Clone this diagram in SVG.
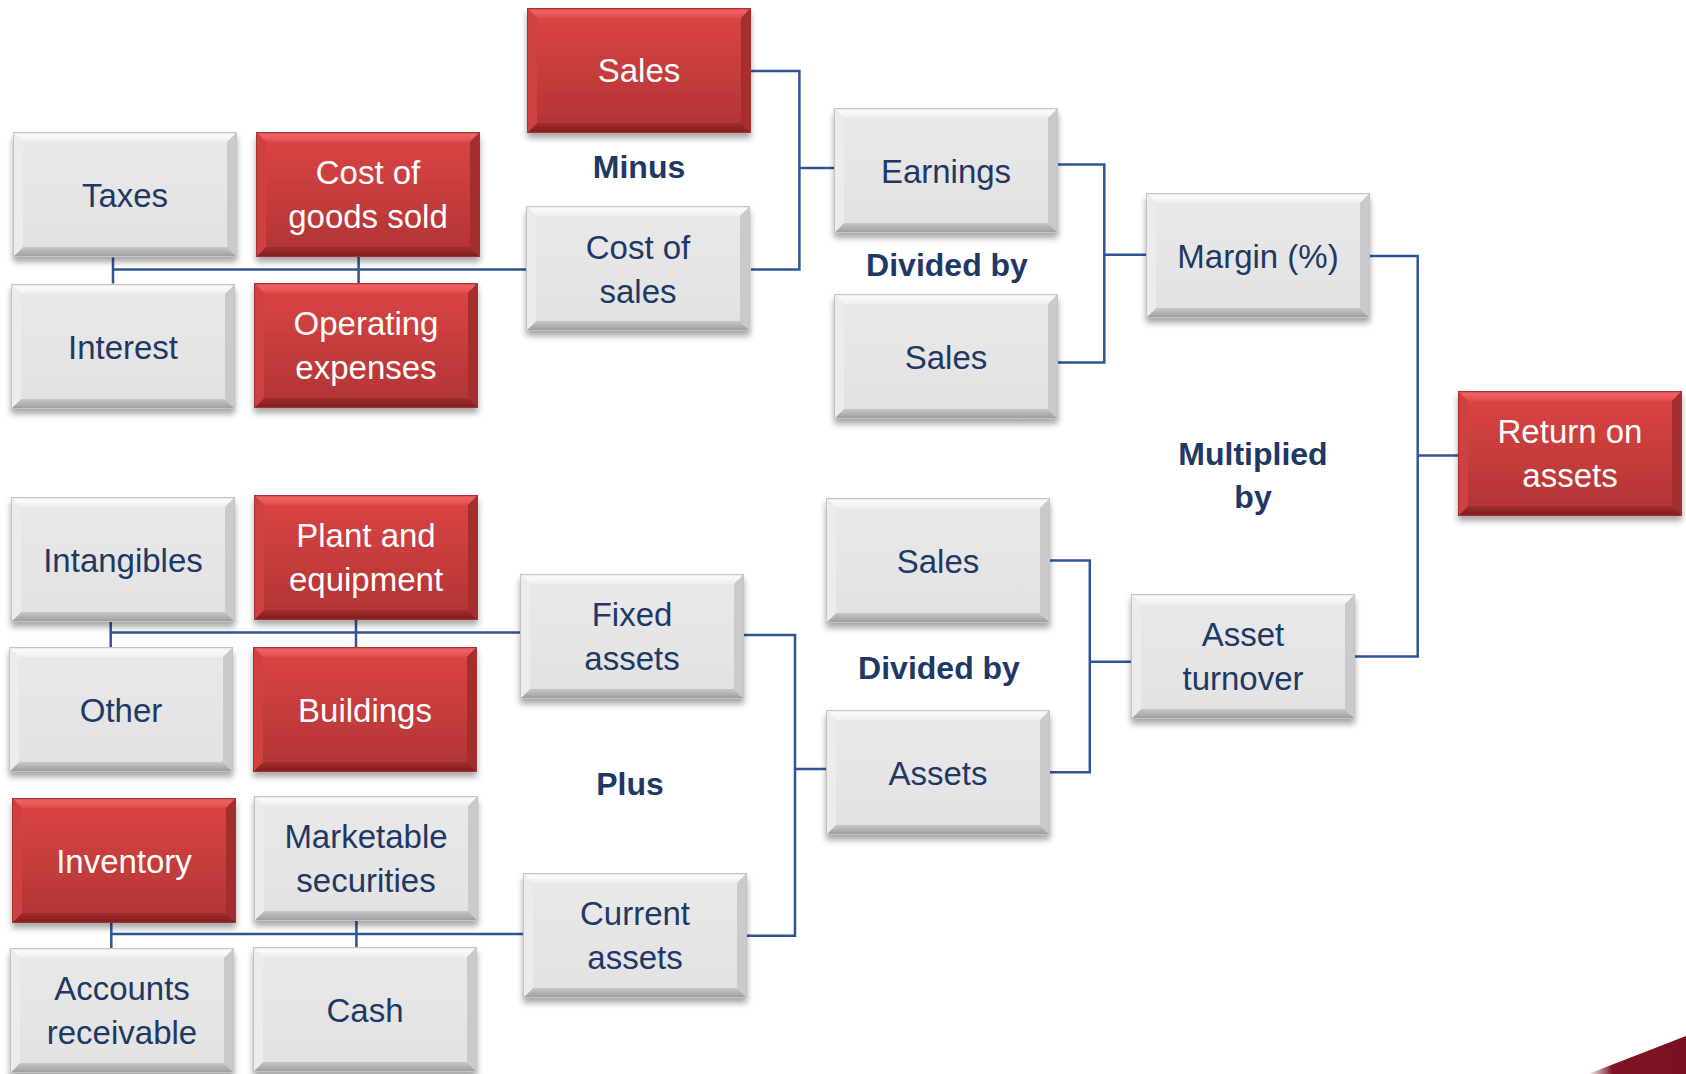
<svg xmlns="http://www.w3.org/2000/svg" xmlns:xlink="http://www.w3.org/1999/xlink" width="1686" height="1074" viewBox="0 0 1686 1074">
<style>
.t{font-family:"Liberation Sans",Arial,sans-serif;font-size:33px;text-anchor:middle;fill:#1f3864}
.w{fill:#ffffff}
.b{font-family:"Liberation Sans",Arial,sans-serif;font-size:32px;font-weight:bold;text-anchor:middle;fill:#1f3864}
.c{fill:none;stroke:#2f5597;stroke-width:2.5}
</style>
<defs>
<filter id="sh" x="-10%" y="-10%" width="125%" height="135%">
<feDropShadow dx="0" dy="5" stdDeviation="3" flood-color="#000" flood-opacity="0.35"/>
</filter>
<linearGradient id="gFace" x1="0" y1="0" x2="0" y2="1">
<stop offset="0" stop-color="#e9e9e9"/><stop offset="1" stop-color="#e2e2e2"/>
</linearGradient>
<linearGradient id="gTop" x1="0" y1="0" x2="0" y2="1">
<stop offset="0" stop-color="#e0e0e0"/><stop offset="0.3" stop-color="#fafafa"/><stop offset="1" stop-color="#efefef"/>
</linearGradient>
<linearGradient id="gBot" x1="0" y1="0" x2="0" y2="1">
<stop offset="0" stop-color="#c8c8c8"/><stop offset="1" stop-color="#9a9a9a"/>
</linearGradient>
<linearGradient id="rFace" x1="0" y1="0" x2="0" y2="1">
<stop offset="0" stop-color="#dc4545"/><stop offset="1" stop-color="#b03434"/>
</linearGradient>
<linearGradient id="rTop" x1="0" y1="0" x2="0" y2="1">
<stop offset="0" stop-color="#d44444"/><stop offset="0.3" stop-color="#f06262"/><stop offset="1" stop-color="#e04c4c"/>
</linearGradient>
<linearGradient id="rBot" x1="0" y1="0" x2="0" y2="1">
<stop offset="0" stop-color="#a22d2d"/><stop offset="1" stop-color="#7e1e1e"/>
</linearGradient>
<linearGradient id="swoosh" x1="0" y1="0" x2="1" y2="0">
<stop offset="0" stop-color="#ffffff"/><stop offset="0.25" stop-color="#7d1424"/><stop offset="1" stop-color="#7a1020"/>
</linearGradient>
<symbol id="gray" viewBox="0 0 224 125" width="224" height="125" overflow="visible">
<rect x="0" y="0" width="224" height="125" fill="url(#gFace)"/>
<polygon points="0,0 224,0 214,10 10,10" fill="url(#gTop)"/>
<polygon points="0,125 224,125 214,115 10,115" fill="url(#gBot)"/>
<polygon points="0,0 10,10 10,115 0,125" fill="#ececec"/>
<polygon points="224,0 214,10 214,115 224,125" fill="#cacaca"/>
<rect x="0.5" y="0.5" width="223" height="124" fill="none" stroke="#c4c4c4" stroke-width="1"/>
</symbol>
<symbol id="red" viewBox="0 0 224 125" width="224" height="125" overflow="visible">
<rect x="0" y="0" width="224" height="125" fill="url(#rFace)"/>
<polygon points="0,0 224,0 214,10 10,10" fill="url(#rTop)"/>
<polygon points="0,125 224,125 214,115 10,115" fill="url(#rBot)"/>
<polygon points="0,0 10,10 10,115 0,125" fill="#cf4141"/>
<polygon points="224,0 214,10 214,115 224,125" fill="#a42d2d"/>
<rect x="0.5" y="0.5" width="223" height="124" fill="none" stroke="#a83030" stroke-width="1"/>
</symbol>
</defs>
<rect width="1686" height="1074" fill="#ffffff"/>
<polygon points="1588,1074 1686,1036 1686,1074" fill="url(#swoosh)"/>

<g id="connectors">
<path class="c" d="M113,257.6 V283.6 M358.6,257 V283 M113,269.5 H526"/>
<path class="c" d="M751,71 H799.4 V269.5 H751 M799.4,168 H834"/>
<path class="c" d="M1058,164.4 H1104.3 V362.4 H1058 M1104.3,254.8 H1146"/>
<path class="c" d="M1370,255.9 H1417.7 V656.5 H1355 M1417.7,455.5 H1458"/>
<path class="c" d="M1050,560.6 H1089.8 V772.3 H1050 M1089.8,661.7 H1131"/>
<path class="c" d="M744,635 H795 V935.7 H747 M795,768.9 H826"/>
<path class="c" d="M110.7,621 V647 M356,620 V647 M110.7,632.6 H520"/>
<path class="c" d="M111.3,923 V948 M356.4,921 V947 M111.3,934 H523"/>
</g>

<g id="labels">
<text class="b" x="639" y="178">Minus</text>
<text class="b" x="947" y="276">Divided by</text>
<text class="b" x="1253" y="465">Multiplied</text>
<text class="b" x="1253" y="508">by</text>
<text class="b" x="630" y="795">Plus</text>
<text class="b" x="939" y="679">Divided by</text>
</g>

<g id="n-sales-top"><use href="#red" x="527" y="8" filter="url(#sh)"/><text class="t w" x="639" y="82">Sales</text></g>
<g id="n-taxes"><use href="#gray" x="13" y="132" filter="url(#sh)"/><text class="t" x="125" y="207">Taxes</text></g>
<g id="n-cogs"><use href="#red" x="256" y="132" filter="url(#sh)"/><text class="t w" x="368" y="184">Cost of</text><text class="t w" x="368" y="228">goods sold</text></g>
<g id="n-interest"><use href="#gray" x="11" y="284" filter="url(#sh)"/><text class="t" x="123" y="359">Interest</text></g>
<g id="n-opex"><use href="#red" x="254" y="283" filter="url(#sh)"/><text class="t w" x="366" y="335">Operating</text><text class="t w" x="366" y="379">expenses</text></g>
<g id="n-cost-of-sales"><use href="#gray" x="526" y="206" filter="url(#sh)"/><text class="t" x="638" y="259">Cost of</text><text class="t" x="638" y="303">sales</text></g>
<g id="n-earnings"><use href="#gray" x="834" y="108" filter="url(#sh)"/><text class="t" x="946" y="183">Earnings</text></g>
<g id="n-sales-2"><use href="#gray" x="834" y="294" filter="url(#sh)"/><text class="t" x="946" y="369">Sales</text></g>
<g id="n-margin"><use href="#gray" x="1146" y="193" filter="url(#sh)"/><text class="t" x="1258" y="268">Margin (%)</text></g>
<g id="n-roa"><use href="#red" x="1458" y="391" filter="url(#sh)"/><text class="t w" x="1570" y="443">Return on</text><text class="t w" x="1570" y="487">assets</text></g>
<g id="n-intangibles"><use href="#gray" x="11" y="497" filter="url(#sh)"/><text class="t" x="123" y="572">Intangibles</text></g>
<g id="n-plant"><use href="#red" x="254" y="495" filter="url(#sh)"/><text class="t w" x="366" y="547">Plant and</text><text class="t w" x="366" y="591">equipment</text></g>
<g id="n-other"><use href="#gray" x="9" y="647" filter="url(#sh)"/><text class="t" x="121" y="722">Other</text></g>
<g id="n-buildings"><use href="#red" x="253" y="647" filter="url(#sh)"/><text class="t w" x="365" y="722">Buildings</text></g>
<g id="n-fixed-assets"><use href="#gray" x="520" y="574" filter="url(#sh)"/><text class="t" x="632" y="626">Fixed</text><text class="t" x="632" y="670">assets</text></g>
<g id="n-inventory"><use href="#red" x="12" y="798" filter="url(#sh)"/><text class="t w" x="124" y="873">Inventory</text></g>
<g id="n-marketable"><use href="#gray" x="254" y="796" filter="url(#sh)"/><text class="t" x="366" y="848">Marketable</text><text class="t" x="366" y="892">securities</text></g>
<g id="n-receivable"><use href="#gray" x="10" y="948" filter="url(#sh)"/><text class="t" x="122" y="1000">Accounts</text><text class="t" x="122" y="1044">receivable</text></g>
<g id="n-cash"><use href="#gray" x="253" y="947" filter="url(#sh)"/><text class="t" x="365" y="1022">Cash</text></g>
<g id="n-current-assets"><use href="#gray" x="523" y="873" filter="url(#sh)"/><text class="t" x="635" y="925">Current</text><text class="t" x="635" y="969">assets</text></g>
<g id="n-sales-3"><use href="#gray" x="826" y="498" filter="url(#sh)"/><text class="t" x="938" y="573">Sales</text></g>
<g id="n-assets"><use href="#gray" x="826" y="710" filter="url(#sh)"/><text class="t" x="938" y="785">Assets</text></g>
<g id="n-asset-turnover"><use href="#gray" x="1131" y="594" filter="url(#sh)"/><text class="t" x="1243" y="646">Asset</text><text class="t" x="1243" y="690">turnover</text></g>
</svg>
